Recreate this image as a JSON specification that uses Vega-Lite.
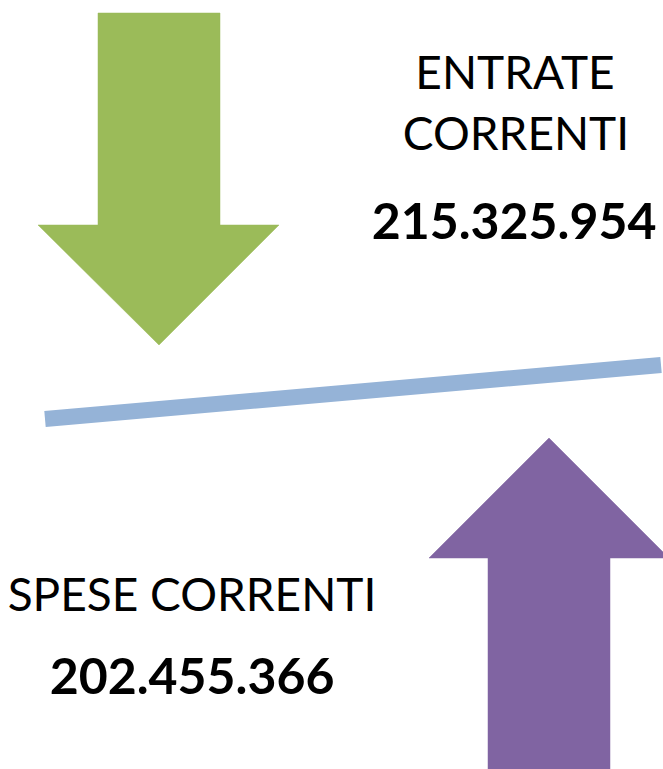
{
  "$schema": "https://vega.github.io/schema/vega-lite/v6.json",
  "width": 663,
  "height": 769,
  "padding": 0,
  "autosize": "none",
  "background": "white",
  "config": {
    "view": {"stroke": null},
    "locale": {"number": {"decimal": ",", "thousands": ".", "grouping": [3], "currency": ["€", ""]}}
  },
  "datasets": {
    "arrows": [
      {"arrow": "entrate", "order": 1, "x": 98, "y": 13},
      {"arrow": "entrate", "order": 2, "x": 220, "y": 13},
      {"arrow": "entrate", "order": 3, "x": 220, "y": 225},
      {"arrow": "entrate", "order": 4, "x": 279, "y": 225},
      {"arrow": "entrate", "order": 5, "x": 159, "y": 345},
      {"arrow": "entrate", "order": 6, "x": 38, "y": 225},
      {"arrow": "entrate", "order": 7, "x": 98, "y": 225},
      {"arrow": "spese", "order": 1, "x": 549, "y": 438},
      {"arrow": "spese", "order": 2, "x": 669, "y": 558},
      {"arrow": "spese", "order": 3, "x": 610, "y": 558},
      {"arrow": "spese", "order": 4, "x": 610, "y": 775},
      {"arrow": "spese", "order": 5, "x": 488, "y": 775},
      {"arrow": "spese", "order": 6, "x": 488, "y": 558},
      {"arrow": "spese", "order": 7, "x": 429, "y": 558}
    ],
    "balance": [
      {"x": 45, "y": 419},
      {"x": 661, "y": 365}
    ],
    "labels": [
      {"text": "ENTRATE", "x": 515, "y": 89},
      {"text": "CORRENTI", "x": 516, "y": 150},
      {"text": "SPESE CORRENTI", "x": 192, "y": 611}
    ],
    "values": [
      {"voce": "Entrate correnti", "value": 215325954, "x": 514, "y": 239},
      {"voce": "Spese correnti", "value": 202455366, "x": 192, "y": 694}
    ]
  },
  "layer": [
    {
      "data": {"name": "arrows"},
      "transform": [{"filter": "datum.arrow === 'entrate'"}],
      "mark": {"type": "line", "interpolate": "linear-closed", "fill": "#9BBB59", "stroke": "#9BBB59", "strokeWidth": 0.5, "clip": true},
      "encoding": {
        "x": {"field": "x", "type": "quantitative", "scale": {"domain": [0, 663], "nice": false, "zero": false}, "axis": null},
        "y": {"field": "y", "type": "quantitative", "scale": {"domain": [0, 769], "nice": false, "zero": false, "reverse": true}, "axis": null},
        "order": {"field": "order", "type": "quantitative"}
      }
    },
    {
      "data": {"name": "arrows"},
      "transform": [{"filter": "datum.arrow === 'spese'"}],
      "mark": {"type": "line", "interpolate": "linear-closed", "fill": "#8064A2", "stroke": "#8064A2", "strokeWidth": 0.5, "clip": true},
      "encoding": {
        "x": {"field": "x", "type": "quantitative", "scale": {"domain": [0, 663], "nice": false, "zero": false}, "axis": null},
        "y": {"field": "y", "type": "quantitative", "scale": {"domain": [0, 769], "nice": false, "zero": false, "reverse": true}, "axis": null},
        "order": {"field": "order", "type": "quantitative"}
      }
    },
    {
      "data": {"name": "balance"},
      "mark": {"type": "line", "stroke": "#95B3D7", "strokeWidth": 16, "strokeCap": "butt", "clip": true},
      "encoding": {
        "x": {"field": "x", "type": "quantitative", "scale": {"domain": [0, 663], "nice": false, "zero": false}, "axis": null},
        "y": {"field": "y", "type": "quantitative", "scale": {"domain": [0, 769], "nice": false, "zero": false, "reverse": true}, "axis": null}
      }
    },
    {
      "data": {"name": "labels"},
      "mark": {"type": "text", "align": "center", "baseline": "alphabetic", "font": "Lato", "fontSize": 46, "color": "#000000"},
      "encoding": {
        "x": {"field": "x", "type": "quantitative", "scale": {"domain": [0, 663], "nice": false, "zero": false}, "axis": null},
        "y": {"field": "y", "type": "quantitative", "scale": {"domain": [0, 769], "nice": false, "zero": false, "reverse": true}, "axis": null},
        "text": {"field": "text", "type": "nominal"}
      }
    },
    {
      "data": {"name": "values"},
      "mark": {"type": "text", "align": "center", "baseline": "alphabetic", "font": "Lato", "fontWeight": "bold", "fontSize": 50, "color": "#000000"},
      "encoding": {
        "x": {"field": "x", "type": "quantitative", "scale": {"domain": [0, 663], "nice": false, "zero": false}, "axis": null},
        "y": {"field": "y", "type": "quantitative", "scale": {"domain": [0, 769], "nice": false, "zero": false, "reverse": true}, "axis": null},
        "text": {"field": "value", "type": "quantitative", "format": ",d"}
      }
    }
  ]
}
